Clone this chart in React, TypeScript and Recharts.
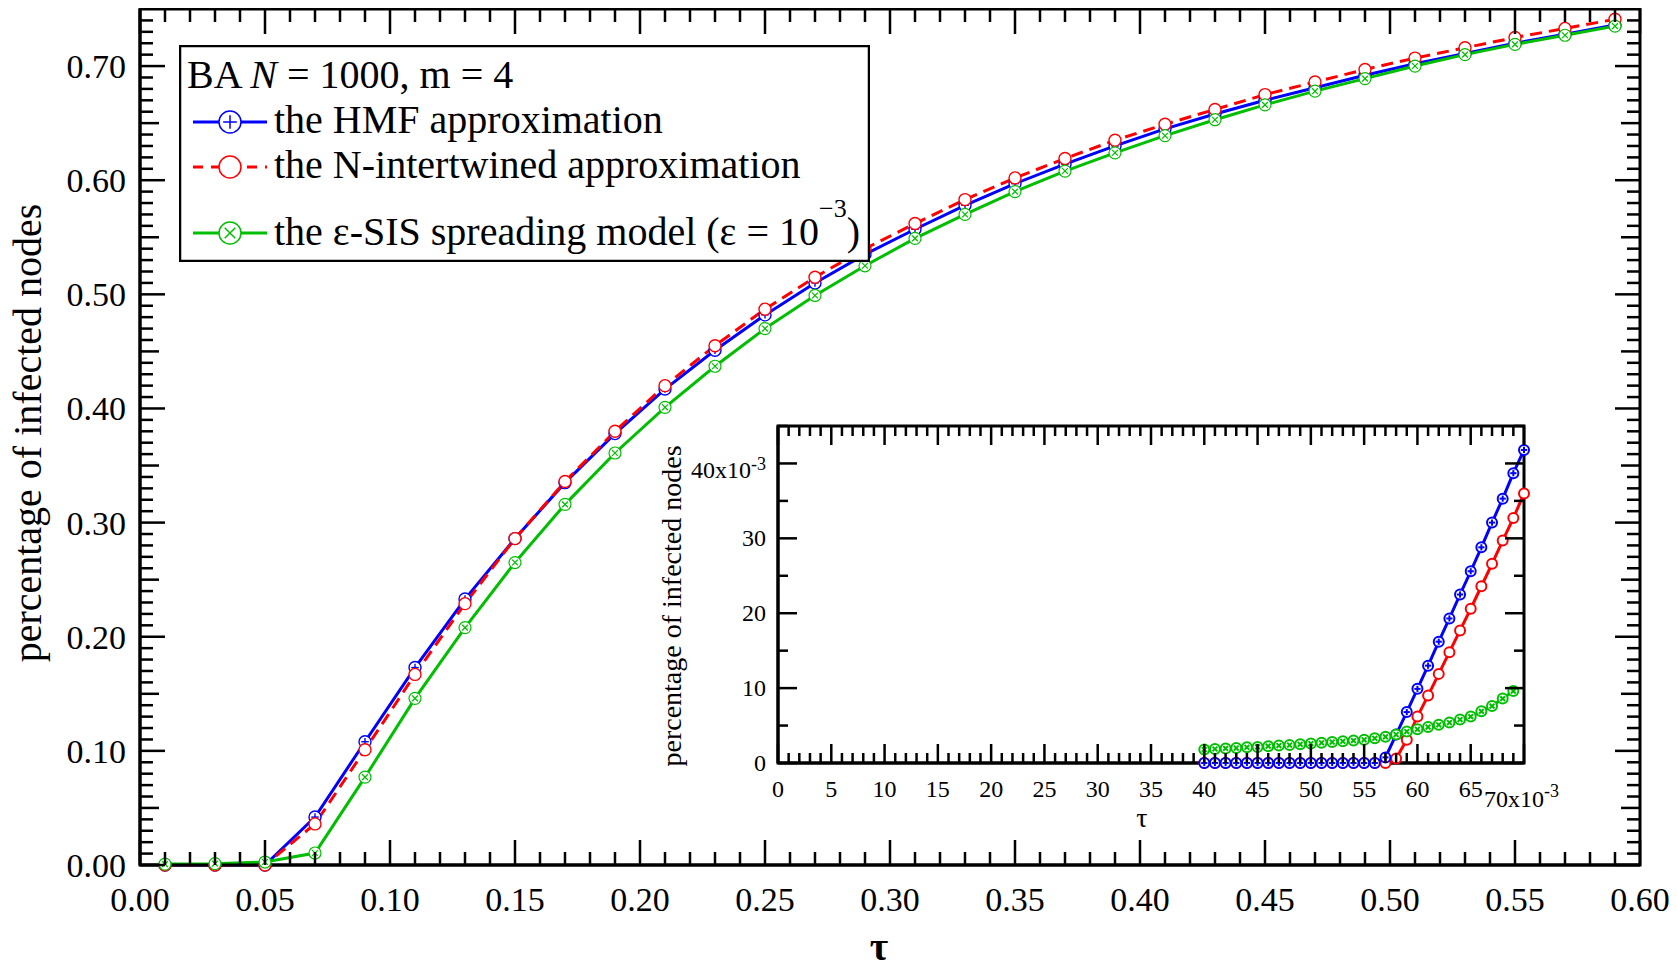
import { LineChart, Line, XAxis, YAxis, ReferenceArea } from "recharts";

// main panel: tau vs fraction of infected nodes
const TAU = [
  0.01, 0.03, 0.05, 0.07, 0.09, 0.11, 0.13, 0.15, 0.17, 0.19, 0.21, 0.23, 0.25, 0.27, 0.29,
  0.31, 0.33, 0.35, 0.37, 0.39, 0.41, 0.43, 0.45, 0.47, 0.49, 0.51, 0.53, 0.55, 0.57, 0.59,
];
const HMF = [
  0, 0, 0, 0.042, 0.108, 0.173, 0.233, 0.286, 0.335, 0.378, 0.417, 0.451, 0.482, 0.51, 0.535,
  0.557, 0.578, 0.597, 0.614, 0.63, 0.645, 0.658, 0.67, 0.681, 0.692, 0.702, 0.711, 0.72, 0.728, 0.736,
];
const NINT = [
  0, 0, 0, 0.036, 0.101, 0.167, 0.229, 0.286, 0.336, 0.38, 0.42, 0.455, 0.487, 0.515, 0.54,
  0.562, 0.583, 0.602, 0.619, 0.635, 0.649, 0.662, 0.675, 0.686, 0.697, 0.707, 0.716, 0.725, 0.733, 0.741,
];
const EPS = [
  0.0008, 0.0012, 0.0026, 0.0105, 0.077, 0.146, 0.208, 0.265, 0.316, 0.361, 0.401, 0.437, 0.47, 0.499, 0.525,
  0.549, 0.57, 0.59, 0.608, 0.624, 0.639, 0.653, 0.666, 0.678, 0.689, 0.7, 0.71, 0.719, 0.727, 0.735,
];

// inset: zoom on the epidemic threshold
const INSET_TAU = [
  0.04, 0.041, 0.042, 0.043, 0.044, 0.045, 0.046, 0.047, 0.048, 0.049, 0.05, 0.051, 0.052, 0.053, 0.054, 0.055,
  0.056, 0.057, 0.058, 0.059, 0.06, 0.061, 0.062, 0.063, 0.064, 0.065, 0.066, 0.067, 0.068, 0.069, 0.07,
];
const INSET_HMF = [
  0, 0, 0, 0, 0, 0, 0, 0, 0, 0, 0, 0, 0, 0, 0, 0,
  0, 0.00075, 0.0038, 0.0068, 0.0099, 0.013, 0.0162, 0.0193, 0.0225, 0.0256, 0.0288, 0.0321, 0.0353, 0.0387, 0.0418,
];
const INSET_NINT = [
  0, 0, 0, 0, 0, 0, 0, 0, 0, 0, 0, 0, 0, 0, 0, 0,
  0, 0, 0.0006, 0.0031, 0.0062, 0.009, 0.0119, 0.0148, 0.0177, 0.0206, 0.0236, 0.0266, 0.0297, 0.0327, 0.036,
];
const INSET_EPS = [
  0.0018, 0.00187, 0.00195, 0.002, 0.0021, 0.00215, 0.00225, 0.00233, 0.0024, 0.0025, 0.0026, 0.0027, 0.0028, 0.0029, 0.003, 0.0031,
  0.0033, 0.0035, 0.0038, 0.0042, 0.0045, 0.0048, 0.0051, 0.0054, 0.0058, 0.0062, 0.0069, 0.0076, 0.0086, 0.0096,
];

const X_LABELS = ["0.00", "0.05", "0.10", "0.15", "0.20", "0.25", "0.30", "0.35", "0.40", "0.45", "0.50", "0.55", "0.60"];
const Y_LABELS = ["0.00", "0.10", "0.20", "0.30", "0.40", "0.50", "0.60", "0.70"];
const INSET_X_LABELS = ["0", "5", "10", "15", "20", "25", "30", "35", "40", "45", "50", "55", "60", "65", "70"];
const INSET_Y_LABELS = ["0", "10", "20", "30", "40"];

const X_TICKS = Array.from({ length: 61 }, (_, i) => i / 100);
const Y_TICKS = Array.from({ length: 75 }, (_, i) => i / 100);
const INSET_X_TICKS = Array.from({ length: 71 }, (_, i) => i / 1000);
const INSET_Y_TICKS = Array.from({ length: 10 }, (_, i) => (i * 5) / 1000);

const BLUE = "#0000ff";
const RED = "#ff0000";
const GREEN = "#00bf00";
const FONT = "'Liberation Serif', 'Times New Roman', serif";

const CHART_W = 1677;
const CHART_H = 962;
const Y_AXIS_W = 140;
const RIGHT = 37;
const X_AXIS_H = 105;
const PLOT_W = CHART_W - Y_AXIS_W - RIGHT;
const PLOT_H = CHART_H - X_AXIS_H - 1;

const IN_W = 920;
const IN_H = 420;
const IN_Y_AXIS_W = 128;
const IN_X_AXIS_H = 77;
const IN_PLOT_W = IN_W - IN_Y_AXIS_W - 46;
const IN_PLOT_H = IN_H - IN_X_AXIS_H - 6;

const mainData = TAU.map((t, i) => ({ tau: t, hmf: HMF[i], nint: NINT[i], eps: EPS[i] }));
const insetData = INSET_TAU.map((t, i) => ({
  tau: t,
  hmf: INSET_HMF[i],
  nint: INSET_NINT[i],
  eps: INSET_EPS[i] ?? null,
}));

type Mark = "plus" | "cross" | "none";

function makeDot(color: string, mark: Mark, r: number, sw: number) {
  return (p: any) => {
    const key = `${color}-${p.index}`;
    if (p.cx == null || p.cy == null || p.value == null) return <g key={key} />;
    const { cx, cy } = p;
    const a = r * 0.62;
    const d = r * 0.48;
    return (
      <g key={key}>
        <circle cx={cx} cy={cy} r={r} fill="#fff" stroke={color} strokeWidth={sw} />
        {mark === "plus" && (
          <>
            <line x1={cx - a} y1={cy} x2={cx + a} y2={cy} stroke={color} strokeWidth={sw} />
            <line x1={cx} y1={cy - a} x2={cx} y2={cy + a} stroke={color} strokeWidth={sw} />
          </>
        )}
        {mark === "cross" && (
          <>
            <line x1={cx - d} y1={cy - d} x2={cx + d} y2={cy + d} stroke={color} strokeWidth={sw} />
            <line x1={cx - d} y1={cy + d} x2={cx + d} y2={cy - d} stroke={color} strokeWidth={sw} />
          </>
        )}
      </g>
    );
  };
}

function MainXTick(p: any) {
  const { x, y, payload } = p;
  const k = Math.round(payload.value * 100);
  const major = k % 5 === 0;
  const len = major ? 25 : 13;
  const top = y - PLOT_H;
  return (
    <g>
      <line x1={x} y1={y} x2={x} y2={y - len} stroke="#000" strokeWidth={2.5} />
      <line x1={x} y1={top} x2={x} y2={top + len} stroke="#000" strokeWidth={2.5} />
      {major && (
        <text x={x} y={y + 46} textAnchor="middle" fontSize={34} fontFamily={FONT} fill="#000">
          {X_LABELS[k / 5]}
        </text>
      )}
    </g>
  );
}

function MainYTick(p: any) {
  const { x, y, payload } = p;
  const k = Math.round(payload.value * 100);
  const len = k % 10 === 0 ? 25 : k % 5 === 0 ? 19 : 13;
  const right = x + PLOT_W;
  return (
    <g>
      <line x1={x} y1={y} x2={x + len} y2={y} stroke="#000" strokeWidth={2.5} />
      <line x1={right} y1={y} x2={right - len} y2={y} stroke="#000" strokeWidth={2.5} />
      {k % 10 === 0 && (
        <text x={x - 14} y={y + 12} textAnchor="end" fontSize={34} fontFamily={FONT} fill="#000">
          {Y_LABELS[k / 10]}
        </text>
      )}
    </g>
  );
}

function InsetXTick(p: any) {
  const { x, y, payload } = p;
  const k = Math.round(payload.value * 1000);
  const major = k % 5 === 0;
  const len = major ? 19 : 10;
  const top = y - IN_PLOT_H;
  const last = k === 70;
  return (
    <g>
      <line x1={x} y1={y} x2={x} y2={y - len} stroke="#000" strokeWidth={2.5} />
      <line x1={x} y1={top} x2={x} y2={top + len} stroke="#000" strokeWidth={2.5} />
      {major && !last && (
        <text x={x} y={y + 34} textAnchor="middle" fontSize={24} fontFamily={FONT} fill="#000">
          {INSET_X_LABELS[k / 5]}
        </text>
      )}
      {last && (
        <text x={x - 40} y={y + 44} textAnchor="start" fontSize={24} fontFamily={FONT} fill="#000">
          {INSET_X_LABELS[k / 5]}x10
          <tspan dy={-10} fontSize={18}>-3</tspan>
        </text>
      )}
    </g>
  );
}

function InsetYTick(p: any) {
  const { x, y, payload } = p;
  const k = Math.round(payload.value * 1000);
  const major = k % 10 === 0;
  const len = major ? 19 : 10;
  const right = x + IN_PLOT_W;
  const last = k === 40;
  return (
    <g>
      <line x1={x} y1={y} x2={x + len} y2={y} stroke="#000" strokeWidth={2.5} />
      <line x1={right} y1={y} x2={right - len} y2={y} stroke="#000" strokeWidth={2.5} />
      {major && !last && (
        <text x={x - 12} y={y + 8} textAnchor="end" fontSize={24} fontFamily={FONT} fill="#000">
          {INSET_Y_LABELS[k / 10]}
        </text>
      )}
      {last && (
        <text x={x - 12} y={y + 15} textAnchor="end" fontSize={24} fontFamily={FONT} fill="#000">
          {INSET_Y_LABELS[k / 10]}x10
          <tspan dy={-8} fontSize={18}>-3</tspan>
        </text>
      )}
    </g>
  );
}

function LegendBox() {
  const rows = [
    { color: BLUE, mark: "plus" as Mark, dash: undefined, y: 77, base: 88, text: "the HMF approximation" },
    { color: RED, mark: "none" as Mark, dash: "10 8", y: 122, base: 133, text: "the N-intertwined approximation" },
  ];
  return (
    <svg width={691} height={217} style={{ position: "absolute", left: 179, top: 37 }}>
      <rect x={1} y={1} width={689} height={215} fill="#fff" stroke="#000" strokeWidth={2.5} />
      <g fontFamily={FONT} fontSize={40} fill="#000">
        <text x={8} y={43}>
          BA <tspan fontStyle="italic">N</tspan> = 1000, m = 4
        </text>
        {rows.map((r) => (
          <g key={r.text}>
            <line x1={14} y1={r.y} x2={88} y2={r.y} stroke={r.color} strokeWidth={3} strokeDasharray={r.dash} />
            {makeDot(r.color, r.mark, 11, 1.5)({ cx: 51, cy: r.y, index: 0, value: 1 })}
            <text x={95} y={r.base}>{r.text}</text>
          </g>
        ))}
        <line x1={14} y1={188} x2={88} y2={188} stroke={GREEN} strokeWidth={3} />
        {makeDot(GREEN, "cross", 11, 1.5)({ cx: 51, cy: 188, index: 0, value: 1 })}
        <text x={95} y={200}>
          the ε-SIS spreading model (ε = 10
          <tspan dy={-28} fontSize={26}>−3</tspan>
          <tspan dy={28}>)</tspan>
        </text>
      </g>
    </svg>
  );
}

function Inset() {
  return (
    <div style={{ position: "absolute", left: 650, top: 412, width: IN_W, height: IN_H }}>
      <LineChart
        width={IN_W}
        height={IN_H}
        data={insetData}
        margin={{ top: 6, right: 46, left: 0, bottom: 0 }}
      >
        <XAxis
          dataKey="tau"
          type="number"
          domain={[0, 0.07]}
          ticks={INSET_X_TICKS}
          interval={0}
          tickSize={0}
          tickMargin={0}
          height={IN_X_AXIS_H}
          tickLine={false}
          axisLine={{ stroke: "#000", strokeWidth: 3 }}
          tick={(p: any) => <InsetXTick {...p} />}
        />
        <YAxis
          type="number"
          domain={[0, 0.045]}
          ticks={INSET_Y_TICKS}
          interval={0}
          tickSize={0}
          tickMargin={0}
          width={IN_Y_AXIS_W}
          tickLine={false}
          axisLine={{ stroke: "#000", strokeWidth: 3 }}
          tick={(p: any) => <InsetYTick {...p} />}
        />
        <ReferenceArea x1={0} x2={0.07} y1={0} y2={0.045} fill="none" stroke="#000" strokeWidth={3} />
        <Line
          dataKey="nint"
          type="linear"
          stroke={RED}
          strokeWidth={3}
          dot={makeDot(RED, "none", 5, 2)}
          activeDot={false}
          isAnimationActive={false}
        />
        <Line
          dataKey="hmf"
          type="linear"
          stroke={BLUE}
          strokeWidth={3}
          dot={makeDot(BLUE, "plus", 5, 2)}
          activeDot={false}
          isAnimationActive={false}
        />
        <Line
          dataKey="eps"
          type="linear"
          stroke={GREEN}
          strokeWidth={3}
          dot={makeDot(GREEN, "cross", 5, 2)}
          activeDot={false}
          isAnimationActive={false}
        />
        <g fontFamily={FONT} fill="#000">
          <text x={31} y={186} fontSize={28} textAnchor="middle" transform="rotate(-90 31 186)">
            percentage of infected nodes
          </text>
          <text x={492} y={407} fontSize={28} textAnchor="middle">
            τ
          </text>
        </g>
      </LineChart>
    </div>
  );
}

export default function App() {
  return (
    <div
      style={{
        position: "relative",
        width: CHART_W,
        height: CHART_H,
        marginLeft: -8,
        marginBottom: -8,
        fontFamily: FONT,
      }}
    >
      <LineChart
        width={CHART_W}
        height={CHART_H}
        data={mainData}
        margin={{ top: 1, right: RIGHT, left: 0, bottom: 0 }}
      >
        <XAxis
          dataKey="tau"
          type="number"
          domain={[0, 0.6]}
          ticks={X_TICKS}
          interval={0}
          tickSize={0}
          tickMargin={0}
          height={X_AXIS_H}
          tickLine={false}
          axisLine={{ stroke: "#000", strokeWidth: 3 }}
          tick={(p: any) => <MainXTick {...p} />}
        />
        <YAxis
          type="number"
          domain={[0, 0.75]}
          ticks={Y_TICKS}
          interval={0}
          tickSize={0}
          tickMargin={0}
          width={Y_AXIS_W}
          tickLine={false}
          axisLine={{ stroke: "#000", strokeWidth: 3 }}
          tick={(p: any) => <MainYTick {...p} />}
        />
        <ReferenceArea x1={0} x2={0.6} y1={0} y2={0.75} fill="none" stroke="#000" strokeWidth={3} />
        <Line
          dataKey="hmf"
          type="linear"
          stroke={BLUE}
          strokeWidth={3}
          dot={makeDot(BLUE, "plus", 6, 1.4)}
          activeDot={false}
          isAnimationActive={false}
        />
        <Line
          dataKey="nint"
          type="linear"
          stroke={RED}
          strokeWidth={3}
          strokeDasharray="12 7"
          dot={makeDot(RED, "none", 6, 1.4)}
          activeDot={false}
          isAnimationActive={false}
        />
        <Line
          dataKey="eps"
          type="linear"
          stroke={GREEN}
          strokeWidth={3}
          dot={makeDot(GREEN, "cross", 6, 1.2)}
          activeDot={false}
          isAnimationActive={false}
        />
        <g fontFamily={FONT} fill="#000">
          <text x={41} y={425} fontSize={40} textAnchor="middle" transform="rotate(-90 41 425)">
            percentage of infected nodes
          </text>
          <text x={879} y={952} fontSize={40} fontWeight="bold" textAnchor="middle">
            τ
          </text>
        </g>
      </LineChart>
      <Inset />
      <LegendBox />
    </div>
  );
}
